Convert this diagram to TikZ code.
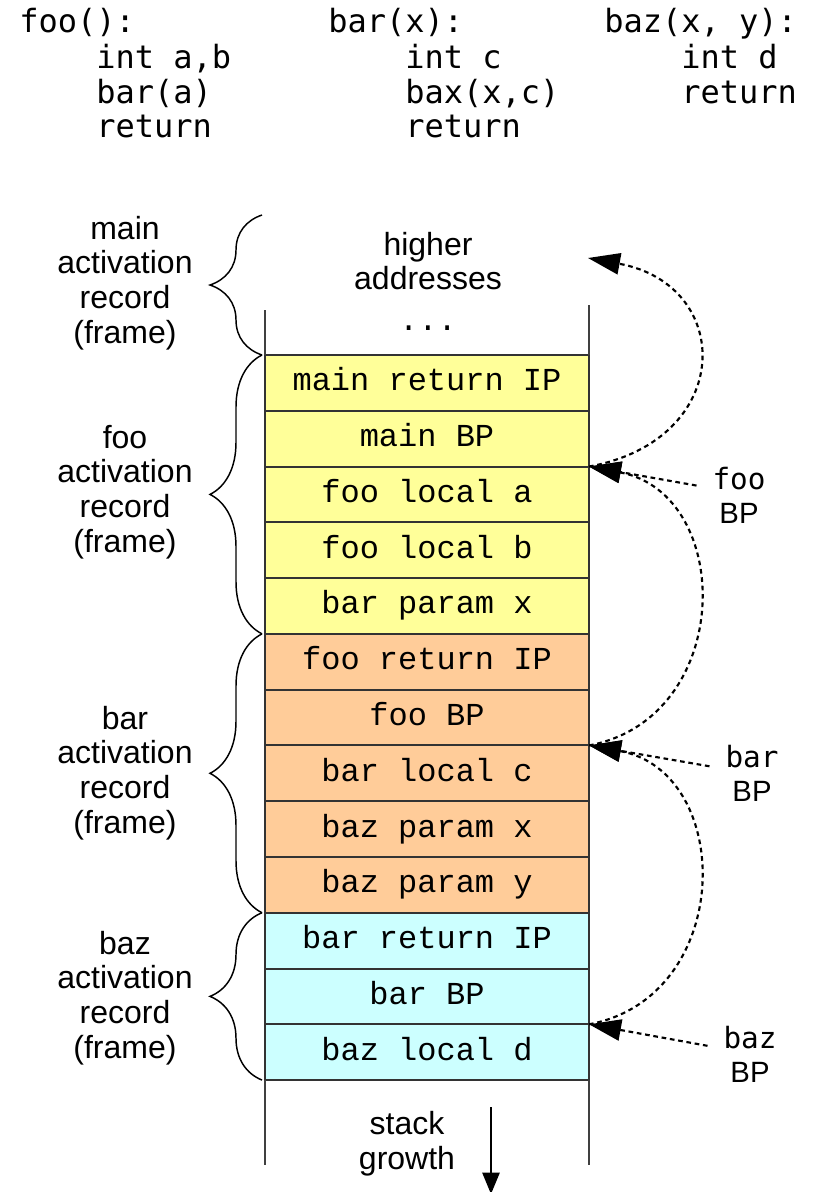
\documentclass[tikz,border=0pt]{standalone}
\usepackage{fontspec}
\setmainfont{Liberation Sans}
\setmonofont{Liberation Mono}
\newfontfamily\codefont{DejaVu Sans Mono}
\usetikzlibrary{positioning,arrows.meta,decorations.pathreplacing}
\definecolor{mainyellow}{HTML}{FFFF99}
\definecolor{fooorange}{HTML}{FFCC99}
\definecolor{barcyan}{HTML}{CCFFFF}
\definecolor{cellline}{HTML}{333333}

\begin{document}
\begin{tikzpicture}[x=0.75pt,y=-0.75pt,
	cell/.style={draw=cellline,line width=1.5pt,minimum width=243pt,minimum height=41.83pt,inner sep=0pt,outer sep=0pt,text height=16.8pt,text depth=4.8pt,font=\ttfamily\fontsize{24}{26}\selectfont},
	lbl/.style={align=center,inner sep=0pt,font=\fontsize{24}{26}\selectfont},
	bplbl/.style={align=center,inner sep=0pt,font=\fontsize{22}{25.5}\selectfont},
	codetxt/.style={align=left,inner sep=0pt,font=\codefont\fontsize{24}{26}\selectfont},
	rec/.style={decorate,decoration={brace,amplitude=39pt},line width=1.1pt},
	wall/.style={draw=black!75,line width=1.1pt},
	bplink/.style={line width=1.6pt,dash pattern=on 3.5pt off 2.8pt,-{Triangle[length=24pt,width=16pt]}}]
	\useasboundingbox (0,0) rectangle (816,1192);
	% source of the three functions
	\node[codetxt,anchor=base west] (foohead) at (19,32) {foo():};
	\node[codetxt,anchor=north west] (foobody) at (96,44) {int a,b\\bar(a)\\return};
	\node[codetxt,anchor=base west] (barhead) at (328,32) {bar(x):};
	\node[codetxt,anchor=north west] (barbody) at (405,44) {int c\\bax(x,c)\\return};
	\node[codetxt,anchor=base west] (bazhead) at (604,32) {baz(x, y):};
	\node[codetxt,anchor=north west] (bazbody) at (681,44) {int d\\return};
	% the stack
	\node[cell,fill=mainyellow,anchor=north] (mainret) at (427,355) {main return IP};
	\node[cell,fill=mainyellow,below=0pt of mainret] (mainbp) {main BP};
	\node[cell,fill=mainyellow,below=0pt of mainbp] (fooa) {foo local a};
	\node[cell,fill=mainyellow,below=0pt of fooa] (foob) {foo local b};
	\node[cell,fill=mainyellow,below=0pt of foob] (barx) {bar param x};
	\node[cell,fill=fooorange,below=0pt of barx] (fooret) {foo return IP};
	\node[cell,fill=fooorange,below=0pt of fooret] (foobp) {foo BP};
	\node[cell,fill=fooorange,below=0pt of foobp] (barc) {bar local c};
	\node[cell,fill=fooorange,below=0pt of barc] (bazx) {baz param x};
	\node[cell,fill=fooorange,below=0pt of bazx] (bazy) {baz param y};
	\node[cell,fill=barcyan,below=0pt of bazy] (barret) {bar return IP};
	\node[cell,fill=barcyan,below=0pt of barret] (barbp) {bar BP};
	\node[cell,fill=barcyan,below=0pt of barbp] (bazd) {baz local d};
	\draw[wall] (mainret.north west) -- ++(0,-45);
	\draw[wall] (mainret.north east) -- ++(0,-50);
	\draw[wall] (bazd.south west) -- ++(0,85);
	\draw[wall] (bazd.south east) -- ++(0,85);
	\node[lbl] (hiaddr) at (428,261) {higher\\addresses};
	\node[cell,draw=none,anchor=base] (dots) at (428,330) {...};
	% frames
	\coordinate (maintop) at (262,215);
	\draw[rec] ([xshift=-2.25pt]mainret.north west) -- (maintop);
	\draw[rec] ([xshift=-2.25pt]barx.south west) -- ([xshift=-2.25pt]mainret.north west);
	\draw[rec] ([xshift=-2.25pt]bazy.south west) -- ([xshift=-2.25pt]fooret.north west);
	\draw[rec] ([xshift=-2.25pt]bazd.south west) -- ([xshift=-2.25pt]barret.north west);
	\node[lbl] (mainrec) at (125,283) {main\\activation\\record\\(frame)};
	\node[lbl] (foorec) at (125,492) {foo\\activation\\record\\(frame)};
	\node[lbl] (barrec) at (125,773) {bar\\activation\\record\\(frame)};
	\node[lbl] (bazrec) at (125,998) {baz\\activation\\record\\(frame)};
	% base pointers
	\coordinate (hiarrow) at (588,258);
	\node[bplbl] (fooBP) at (739,495) {{\codefont foo}\\BP};
	\node[bplbl] (barBP) at (752,773) {{\codefont bar}\\BP};
	\node[bplbl] (bazBP) at (750,1054) {{\codefont baz}\\BP};
	\draw[bplink,shorten <=12pt] ([yshift=5pt]fooBP.west) -- (fooa.north east);
	\draw[bplink,shorten <=12pt] ([yshift=3pt]barBP.west) -- (barc.north east);
	\draw[bplink,shorten <=12pt] ([yshift=4pt]bazBP.west) -- (bazd.north east);
	\draw[bplink] (fooa.north east) .. controls (735,440) and (735,285) .. (hiarrow);
	\draw[bplink] (barc.north east) .. controls (735,718) and (735,494) .. (fooa.north east);
	\draw[bplink] (bazd.north east) .. controls (735,997) and (735,772) .. (barc.north east);
	% growth
	\node[lbl] (growth) at (407,1144) {stack\\growth};
	\coordinate (growtop) at (491,1107);
	\coordinate (growbot) at (491,1194);
	\draw[line width=1.1pt,-{Triangle[length=16pt,width=13pt]}] (growtop) -- (growbot);
\end{tikzpicture}
\end{document}
